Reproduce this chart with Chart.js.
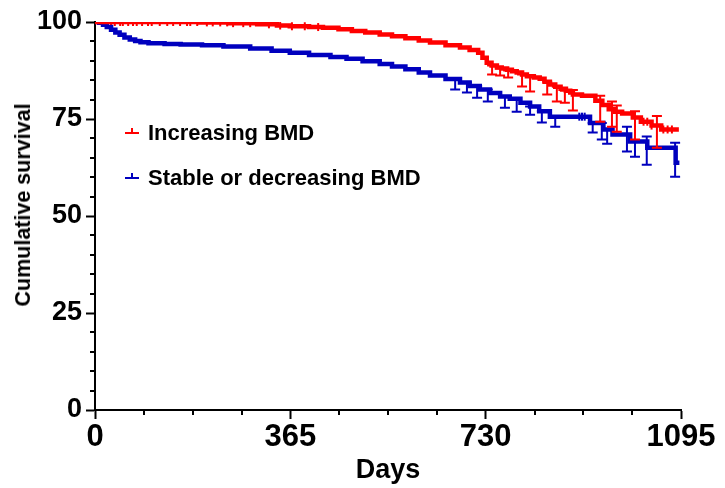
<!DOCTYPE html>
<html>
<head>
<meta charset="utf-8">
<script src="https://cdn.jsdelivr.net/npm/chart.js@4.4.1/dist/chart.umd.min.js"></script>
<style>
html,body{margin:0;padding:0;background:#fff;}
#wrap{position:relative;width:725px;height:488px;}
canvas{display:block;}
.leg{position:absolute;left:125px;display:flex;align-items:center;font:bold 22px "Liberation Sans",Arial,sans-serif;color:#000;white-space:nowrap;line-height:22px;}
.mk{position:relative;width:14px;height:12px;margin-right:9px;}
.mk i{position:absolute;display:block;}
.ytitle{position:absolute;left:23px;top:205px;transform:translate(-50%,-50%) rotate(-90deg);font:bold 21.5px "Liberation Sans",Arial,sans-serif;color:#000;white-space:nowrap;line-height:24px;}
</style>
</head>
<body>
<div id="wrap">
<canvas id="c" width="725" height="488"></canvas>
</div>
<script>
// ---- Data ----
const seriesNames = ['Increasing BMD', 'Stable or decreasing BMD'];
const seriesColors = ['#FF0000', '#0000BE'];

const redDays = [0, 150, 196, 250, 303, 340, 364, 400, 426, 455, 480, 505, 532, 555, 580, 605, 626, 655, 682, 700, 716, 724, 732, 741, 751, 760, 770, 779, 788, 798, 807, 820, 831, 840, 850, 860, 870, 880, 888, 893, 910, 935, 948, 960, 972, 985, 1005, 1020, 1040, 1058, 1091];
const redSurv = [100, 100, 99.9, 99.7, 99.4, 99.1, 98.9, 98.7, 98.5, 98.1, 97.7, 97.3, 96.8, 96.3, 95.8, 95.2, 94.7, 94.0, 93.4, 92.8, 92.1, 90.8, 89.5, 88.8, 88.3, 88.0, 87.7, 87.3, 87, 86.5, 86, 85.7, 85.4, 84.6, 83.9, 83.3, 82.8, 82.3, 81.8, 81.3, 81, 79.7, 78.6, 77.5, 76.9, 76.4, 75.4, 74.3, 73.3, 72.3, 72.3];

const blueDays = [0, 8, 15, 22, 30, 38, 46, 55, 65, 75, 85, 100, 130, 160, 200, 240, 290, 330, 364, 400, 440, 470, 500, 532, 555, 580, 605, 626, 655, 682, 700, 719, 738, 757, 775, 795, 813, 830, 850, 925, 950, 967, 1000, 1032, 1085, 1092];
const blueSurv = [100, 99.8, 99.3, 98.7, 98.0, 97.3, 96.7, 96.0, 95.5, 95.1, 94.8, 94.5, 94.3, 94.2, 94.0, 93.7, 93.2, 92.6, 92.1, 91.5, 91.0, 90.5, 89.9, 89.2, 88.5, 87.8, 87.0, 86.2, 85.3, 84.4, 83.5, 82.6, 81.7, 80.8, 80.2, 79.2, 78.2, 77, 75.6, 74, 72.3, 71, 69.2, 67.6, 63.7, 63.7];

const redErrDays = [742, 757, 772, 798, 813, 845, 863, 878, 893, 944, 966, 975, 1009, 1050];
const redErrLow  = [86.5, 86.2, 85.7, 83.4, 82.1, 81.3, 79.5, 79.2, 77.2, 74.3, 73, 71.7, 69.7, 67.6];
const redErrHigh = [88.8, 88.0, 87.5, 86.5, 86, 84.6, 83.3, 82.3, 82.5, 81, 79.5, 78.5, 77, 75.8];

const blueErrDays = [673, 695, 714, 734, 766, 788, 813, 835, 860, 930, 947, 957, 994, 1009, 1031, 1084];
const blueErrLow  = [82.6, 81.8, 80.5, 79.5, 77.9, 76.9, 76.1, 74.1, 73, 71.5, 69.7, 68.6, 66.6, 65.3, 63.2, 60.1];
const blueErrHigh = [85.3, 84.4, 83.5, 82.6, 80.8, 80.2, 78.2, 77, 75.6, 74, 74, 72.3, 73, 69.2, 70.5, 68.9];

const redCensorDays = [15, 22, 30, 37, 47, 52, 62, 71, 78, 88, 99, 106, 121, 135, 146, 159, 172, 178, 191, 209, 220, 234, 247, 258, 277, 290, 325, 346, 368, 392, 417, 1025, 1032, 1040, 1062, 1070, 1078];
const blueCensorDays = [905, 910, 915];

const xTicks = [0, 365, 730, 1095];
const yTicks = [0, 25, 50, 75, 100];
const xMinorPerMajor = 4;   // quarter-year minor ticks
const yMinorPerMajor = 5;   // every 5 %
const xTitle = 'Days';
const yTitle = 'Cumulative survival';

// ---- helpers ----
function pts(d, s) { return d.map((x, i) => ({x: x, y: s[i]})); }
function stepAt(d, s, day) { let v = s[0]; for (let i = 0; i < d.length; i++) { if (d[i] <= day) v = s[i]; } return v; }
const FONT = "'Liberation Sans', Arial, sans-serif";

// ---- legend and y title (HTML text) ----
const wrap = document.getElementById('wrap');
const legTops = [122, 167];
seriesNames.forEach((n, i) => {
  const div = document.createElement('div');
  div.className = 'leg';
  div.style.top = legTops[i] + 'px';
  const mk = document.createElement('span');
  mk.className = 'mk';
  const h = document.createElement('i');
  h.style.cssText = 'left:0;top:5px;width:14px;height:2px;background:' + seriesColors[i];
  const v = document.createElement('i');
  v.style.cssText = 'left:6px;top:1px;width:2px;height:5px;background:' + seriesColors[i];
  mk.appendChild(h); mk.appendChild(v);
  const t = document.createElement('span');
  t.textContent = n;
  div.appendChild(mk); div.appendChild(t);
  wrap.appendChild(div);
});
const yt = document.createElement('div');
yt.className = 'ytitle';
yt.textContent = yTitle;
wrap.appendChild(yt);

// ---- plugins ----
const minorTicks = {
  id: 'minorTicks',
  afterDraw(chart) {
    const {ctx, scales: {x, y}} = chart;
    ctx.save();
    ctx.strokeStyle = '#000';
    ctx.lineWidth = 2;
    ctx.beginPath();
    for (let i = 0; i < xTicks.length - 1; i++) {
      const step = (xTicks[i + 1] - xTicks[i]) / xMinorPerMajor;
      for (let k = 1; k < xMinorPerMajor; k++) {
        const px = Math.round(x.getPixelForValue(xTicks[i] + k * step));
        ctx.moveTo(px, x.top); ctx.lineTo(px, x.top + 5);
      }
    }
    for (let i = 0; i < yTicks.length - 1; i++) {
      const step = (yTicks[i + 1] - yTicks[i]) / yMinorPerMajor;
      for (let k = 1; k < yMinorPerMajor; k++) {
        const py = Math.round(y.getPixelForValue(yTicks[i] + k * step));
        ctx.moveTo(y.right, py); ctx.lineTo(y.right - 5, py);
      }
    }
    ctx.stroke();
    ctx.restore();
  }
};

const errorBars = {
  id: 'errorBars',
  afterDatasetsDraw(chart) {
    const {ctx, scales: {x, y}} = chart;
    const sets = [
      [blueErrDays, blueErrLow, blueErrHigh, seriesColors[1]],
      [redErrDays, redErrLow, redErrHigh, seriesColors[0]]
    ];
    ctx.save();
    ctx.lineWidth = 2;
    sets.forEach(([d, lo, hi, col]) => {
      ctx.strokeStyle = col;
      ctx.beginPath();
      d.forEach((day, i) => {
        const px = x.getPixelForValue(day);
        const p1 = y.getPixelForValue(lo[i]);
        const p2 = y.getPixelForValue(hi[i]);
        ctx.moveTo(px, p1); ctx.lineTo(px, p2);
        ctx.moveTo(px - 5, p1); ctx.lineTo(px + 5, p1);
        ctx.moveTo(px - 5, p2); ctx.lineTo(px + 5, p2);
      });
      ctx.stroke();
    });
    ctx.restore();
  }
};

new Chart(document.getElementById('c'), {
  type: 'line',
  data: {
    datasets: [
      {label: seriesNames[0], data: pts(redDays, redSurv), borderColor: seriesColors[0], borderWidth: 4.5, stepped: 'before', pointRadius: 0, fill: false},
      {label: seriesNames[1], data: pts(blueDays, blueSurv), borderColor: seriesColors[1], borderWidth: 4.5, stepped: 'before', pointRadius: 0, fill: false},
      {label: 'censor1', data: redCensorDays.map(d => ({x: d, y: stepAt(redDays, redSurv, d)})), showLine: false, pointStyle: 'line', pointRotation: 90, pointRadius: 4, pointBorderWidth: 2, pointBorderColor: seriesColors[0], borderColor: seriesColors[0]},
      {label: 'censor2', data: blueCensorDays.map(d => ({x: d, y: stepAt(blueDays, blueSurv, d)})), showLine: false, pointStyle: 'line', pointRotation: 90, pointRadius: 4, pointBorderWidth: 2, pointBorderColor: seriesColors[1], borderColor: seriesColors[1]}
    ]
  },
  options: {
    responsive: false,
    animation: false,
    layout: {padding: {top: 22, right: 44, left: 0, bottom: 0}},
    plugins: {legend: {display: false}, tooltip: {enabled: false}},
    scales: {
      x: {
        type: 'linear', min: 0, max: 1095,
        afterBuildTicks: s => { s.ticks = xTicks.map(v => ({value: v})); },
        afterFit: s => { s.height = 78; },
        ticks: {font: {family: FONT, weight: 'bold', size: 31}, color: '#000', padding: 0, maxRotation: 0, autoSkip: false, callback: v => String(v)},
        grid: {drawOnChartArea: false, drawTicks: true, tickLength: 9, tickColor: '#000', tickWidth: 2},
        border: {display: true, color: '#000', width: 2},
        title: {display: true, text: xTitle, color: '#000', font: {family: FONT, weight: 'bold', size: 27}, padding: {top: 0, bottom: 1}}
      },
      y: {
        type: 'linear', min: 0, max: 100,
        afterBuildTicks: s => { s.ticks = yTicks.map(v => ({value: v})); },
        afterFit: s => { s.width = 95; },
        ticks: {font: {family: FONT, weight: 'bold', size: 27}, color: '#000', padding: 4, autoSkip: false, callback: v => String(v)},
        grid: {drawOnChartArea: false, drawTicks: true, tickLength: 9, tickColor: '#000', tickWidth: 2},
        border: {display: true, color: '#000', width: 2},
        title: {display: false}
      }
    }
  },
  plugins: [minorTicks, errorBars]
});
</script>
</body>
</html>
